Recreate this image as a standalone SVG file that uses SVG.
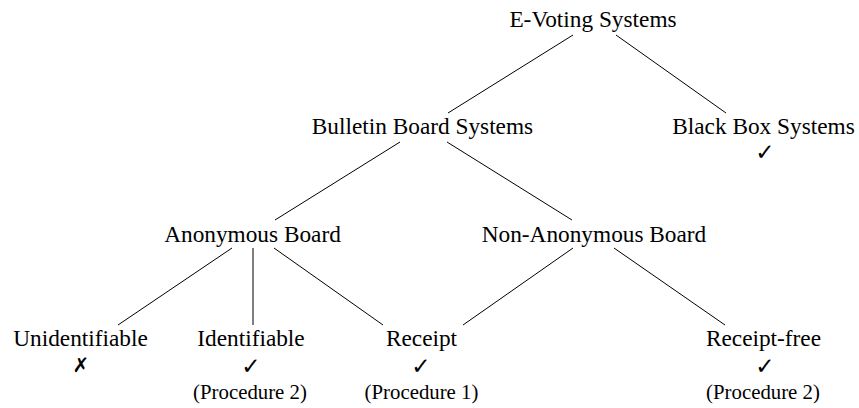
<svg xmlns="http://www.w3.org/2000/svg" width="859" height="408" viewBox="0 0 859 408">
<style>
.t{font-family:"Liberation Serif","Times New Roman",serif;font-size:23.3px;fill:#000;text-anchor:middle}
.p{font-family:"Liberation Serif","Times New Roman",serif;font-size:20.8px;fill:#000;text-anchor:middle}
.m{font-family:"DejaVu Sans",sans-serif;font-size:23px;fill:#000;text-anchor:middle;font-weight:bold}
.x{font-family:"DejaVu Sans",sans-serif;font-size:20px;fill:#000;text-anchor:middle;font-weight:bold}
.e line{stroke:#000;stroke-width:1}
</style>
<rect width="859" height="408" fill="#fff"/>
<g id="connectors" class="e">
<line x1="573" y1="35" x2="448" y2="113"/>
<line x1="616" y1="35" x2="726" y2="113"/>
<line x1="400" y1="142" x2="275" y2="220"/>
<line x1="447" y1="142" x2="572" y2="220"/>
<line x1="232" y1="248" x2="118" y2="325"/>
<line x1="253" y1="248" x2="253" y2="325"/>
<line x1="274" y1="248" x2="383" y2="325"/>
<line x1="573" y1="248" x2="463" y2="325"/>
<line x1="614" y1="248" x2="725" y2="325"/>
</g>
<g id="evoting"><text class="t" x="593" y="27">E-Voting Systems</text></g>
<g id="bulletin"><text class="t" x="422.5" y="134">Bulletin Board Systems</text></g>
<g id="blackbox"><text class="t" x="763.5" y="134">Black Box Systems</text><text class="m" x="765" y="160">✓</text></g>
<g id="anonymous"><text class="t" x="252.5" y="242">Anonymous Board</text></g>
<g id="nonanonymous"><text class="t" x="594" y="242">Non-Anonymous Board</text></g>
<g id="unidentifiable"><text class="t" x="80.5" y="346">Unidentifiable</text><text class="x" x="81" y="372">✗</text></g>
<g id="identifiable"><text class="t" x="251" y="346">Identifiable</text><text class="m" x="251" y="374">✓</text><text class="p" x="250" y="399">(Procedure 2)</text></g>
<g id="receipt"><text class="t" x="421.5" y="346">Receipt</text><text class="m" x="421" y="374">✓</text><text class="p" x="421.5" y="399">(Procedure 1)</text></g>
<g id="receiptfree"><text class="t" x="763.5" y="346">Receipt-free</text><text class="m" x="765" y="374">✓</text><text class="p" x="763" y="399">(Procedure 2)</text></g>
</svg>
